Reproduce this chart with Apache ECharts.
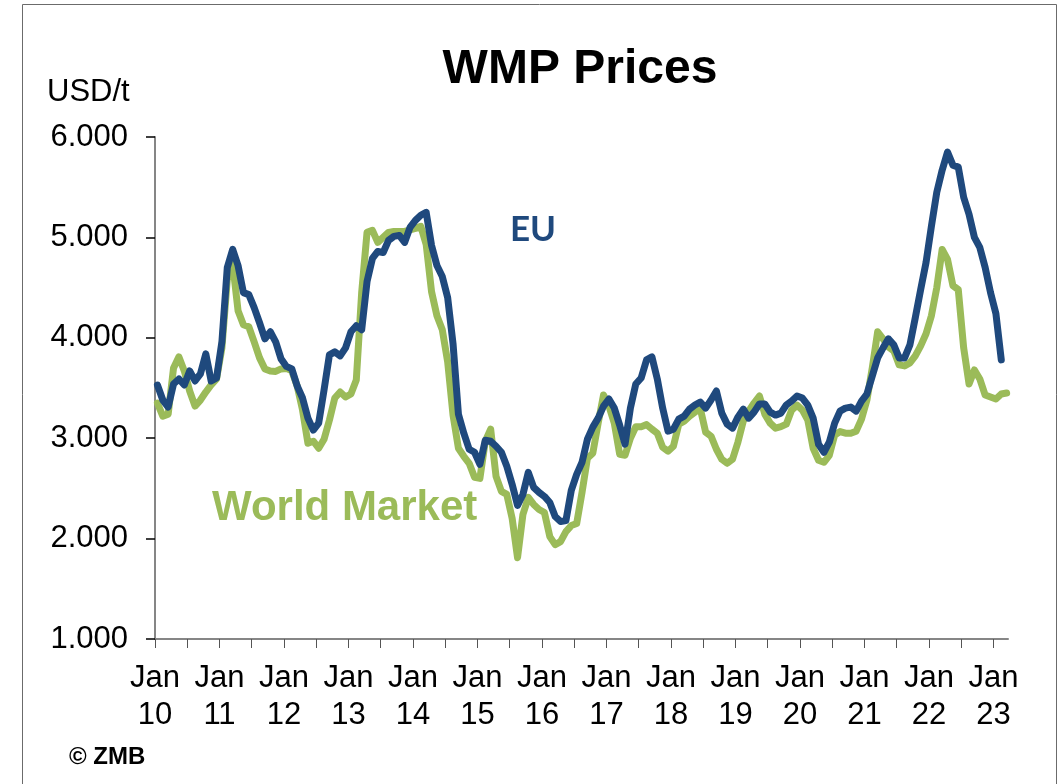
<!DOCTYPE html>
<html>
<head>
<meta charset="utf-8">
<title>WMP Prices</title>
<script src="https://cdn.jsdelivr.net/npm/echarts@6/dist/echarts.min.js"></script>
<style>
  html, body { margin: 0; padding: 0; background: #ffffff; }
  #chart { width: 1059px; height: 784px; }
</style>
</head>
<body>
<div id="chart"></div>
<script>
// Monthly whole milk powder prices in USD/t, starting January 2010.
const startYear = 2010;

// EU prices, Jan 2010 .. Feb 2023
const euPrices = [
  3530, 3380, 3310, 3540, 3590, 3530, 3670, 3570, 3640, 3840,
  3570, 3600, 3960, 4700, 4880, 4720, 4450, 4430, 4300, 4150,
  3990, 4060, 3960, 3790, 3715, 3690, 3520, 3400, 3200, 3080,
  3150, 3480, 3830, 3860, 3820, 3900, 4060, 4120, 4080, 4560,
  4790, 4860, 4850, 4970, 5010, 5020, 4950, 5100, 5170, 5220,
  5250, 4920, 4720, 4610, 4400, 3940, 3240, 3050, 2890, 2860,
  2740, 2980, 2970, 2920, 2860, 2720, 2540, 2330, 2440, 2660,
  2510, 2460, 2420, 2360, 2220, 2170, 2180, 2480, 2640, 2760,
  2990, 3110, 3200, 3320, 3390, 3300, 3130, 2940, 3300, 3540,
  3600, 3780, 3810, 3590, 3300, 3070, 3090, 3190, 3220, 3290,
  3330, 3360, 3300, 3380, 3470, 3250, 3140, 3100, 3210, 3290,
  3200, 3260, 3340, 3340, 3260, 3230, 3250, 3330, 3370, 3420,
  3400, 3330, 3200, 2940, 2860, 2960, 3150, 3270, 3300, 3310,
  3270, 3370, 3440, 3620, 3800, 3900, 3990, 3930, 3800, 3800,
  3930, 4200, 4480, 4750, 5110, 5450, 5670, 5850, 5720, 5700,
  5400, 5230, 5000, 4900, 4700, 4450, 4240, 3780
];

// World market prices, Jan 2010 .. Mar 2023
const worldMarketPrices = [
  3350, 3220, 3240, 3700, 3810, 3670, 3470, 3320, 3380, 3460,
  3530, 3590, 3900, 4580, 4740, 4270, 4130, 4110, 3960, 3800,
  3690, 3670, 3665, 3690, 3695, 3670, 3520, 3280, 2950, 2970,
  2900, 2990, 3180, 3400, 3460, 3410, 3440, 3580, 4450, 5050,
  5070, 4950, 5000, 5050, 5060, 5060, 5060, 5075, 5090, 5110,
  4930, 4460, 4220, 4080, 3760, 3230, 2900, 2820, 2750, 2610,
  2600, 2970, 3090, 2620, 2470, 2440, 2200, 1810, 2240, 2410,
  2340, 2290, 2260, 2020, 1940, 1970, 2070, 2130, 2150, 2460,
  2800, 2850, 3150, 3430, 3320, 3150, 2840, 2830, 3000, 3115,
  3115, 3135, 3090, 3050, 2910, 2870, 2920, 3140, 3170, 3220,
  3260, 3295, 3060, 3020, 2890, 2790, 2750, 2790, 2960, 3170,
  3270, 3350, 3420, 3240, 3150, 3100, 3115, 3140, 3280, 3330,
  3280, 3180, 2900, 2780, 2760, 2830, 3030, 3066, 3050, 3050,
  3070, 3190, 3380, 3700, 4060, 3990, 3910, 3870, 3730, 3720,
  3750, 3820, 3920, 4040, 4220, 4500, 4880, 4780, 4520, 4480,
  3900, 3540, 3680, 3590, 3430, 3410, 3390, 3440, 3450
];

// Axis marks, in months since January 2010
const xTickMonths = [0, 6, 12, 18, 24, 30, 36, 42, 48, 54, 60, 66, 72, 78, 84,
  90, 96, 102, 108, 114, 120, 126, 132, 138, 144, 150, 156];
const xLabelMonths = [0, 12, 24, 36, 48, 60, 72, 84, 96, 108, 120, 132, 144, 156];
const yTicks = [1000, 2000, 3000, 4000, 5000, 6000];

const EU_BLUE = '#1F497D';
const WM_GREEN = '#9BBB59';
const FONT = '"Liberation Sans", Arial, sans-serif';

// Each monthly value is placed in the middle of its month
function toPoints(values) {
  return values.map((v, i) => [i + 0.45, v]);
}

function yearLabel(month) {
  const yy = (startYear + Math.floor(month / 12)) % 100;
  return 'Jan\n' + String(yy).padStart(2, '0');
}

function thousands(v) {
  const s = String(Math.round(v));
  return s.replace(/\B(?=(\d{3})+(?!\d))/g, '.');
}

const chart = echarts.init(document.getElementById('chart'), null, { renderer: 'canvas' });

chart.setOption({
  animation: false,
  backgroundColor: '#ffffff',
  grid: { left: 155, right: 51, top: 137, bottom: 145, containLabel: false },
  xAxis: {
    type: 'value',
    min: 0,
    max: 158.7,
    splitLine: { show: false },
    axisLine: { show: true, lineStyle: { color: '#868686', width: 2 } },
    axisTick: {
      show: true,
      customValues: xTickMonths,
      length: 9,
      inside: false,
      lineStyle: { color: '#555555', width: 1 }
    },
    axisLabel: {
      customValues: xLabelMonths,
      formatter: yearLabel,
      margin: 21,
      color: '#000000',
      fontFamily: FONT,
      fontSize: 31,
      lineHeight: 37,
      align: 'center'
    }
  },
  yAxis: {
    type: 'value',
    min: 1000,
    max: 6000,
    interval: 1000,
    splitLine: { show: false },
    axisLine: { show: true, lineStyle: { color: '#868686', width: 2 } },
    axisTick: {
      show: true,
      customValues: yTicks,
      length: 9,
      inside: false,
      lineStyle: { color: '#000000', width: 1.5 }
    },
    axisLabel: {
      customValues: yTicks,
      formatter: thousands,
      margin: 27,
      color: '#000000',
      fontFamily: FONT,
      fontSize: 31,
      padding: [4, 0, 0, 0]
    }
  },
  series: [
    {
      name: 'World Market',
      type: 'line',
      data: toPoints(worldMarketPrices),
      showSymbol: false,
      lineStyle: { color: WM_GREEN, width: 7, cap: 'round', join: 'round' },
      itemStyle: { color: WM_GREEN },
      z: 2
    },
    {
      name: 'EU',
      type: 'line',
      data: toPoints(euPrices),
      showSymbol: false,
      lineStyle: { color: EU_BLUE, width: 7, cap: 'round', join: 'round' },
      itemStyle: { color: EU_BLUE },
      z: 3
    }
  ],
  graphic: [
    {
      type: 'rect',
      shape: { x: 22.5, y: 4.5, width: 1034, height: 800 },
      style: { fill: 'none', stroke: '#6b6b6b', lineWidth: 1 },
      silent: true
    },
    {
      type: 'text',
      x: 580, y: 70,
      style: {
        text: 'WMP Prices', fill: '#000000',
        font: 'bold 48px ' + FONT,
        textAlign: 'center', textVerticalAlign: 'middle'
      }
    },
    {
      type: 'text',
      x: 47, y: 92,
      style: {
        text: 'USD/t', fill: '#000000',
        font: '31px ' + FONT,
        textAlign: 'left', textVerticalAlign: 'middle'
      }
    },
    {
      type: 'text',
      x: 510, y: 230,
      style: {
        text: 'EU', fill: EU_BLUE,
        font: 'bold 35px Lato, "Open Sans", sans-serif',
        textAlign: 'left', textVerticalAlign: 'middle'
      }
    },
    {
      type: 'text',
      x: 212, y: 508,
      style: {
        text: 'World Market', fill: WM_GREEN,
        font: 'bold 42px ' + FONT,
        textAlign: 'left', textVerticalAlign: 'middle'
      }
    },
    {
      type: 'text',
      x: 69, y: 757,
      style: {
        text: '\u00A9 ZMB', fill: '#000000',
        font: 'bold 24px ' + FONT,
        textAlign: 'left', textVerticalAlign: 'middle'
      }
    }
  ]
});
</script>
</body>
</html>
